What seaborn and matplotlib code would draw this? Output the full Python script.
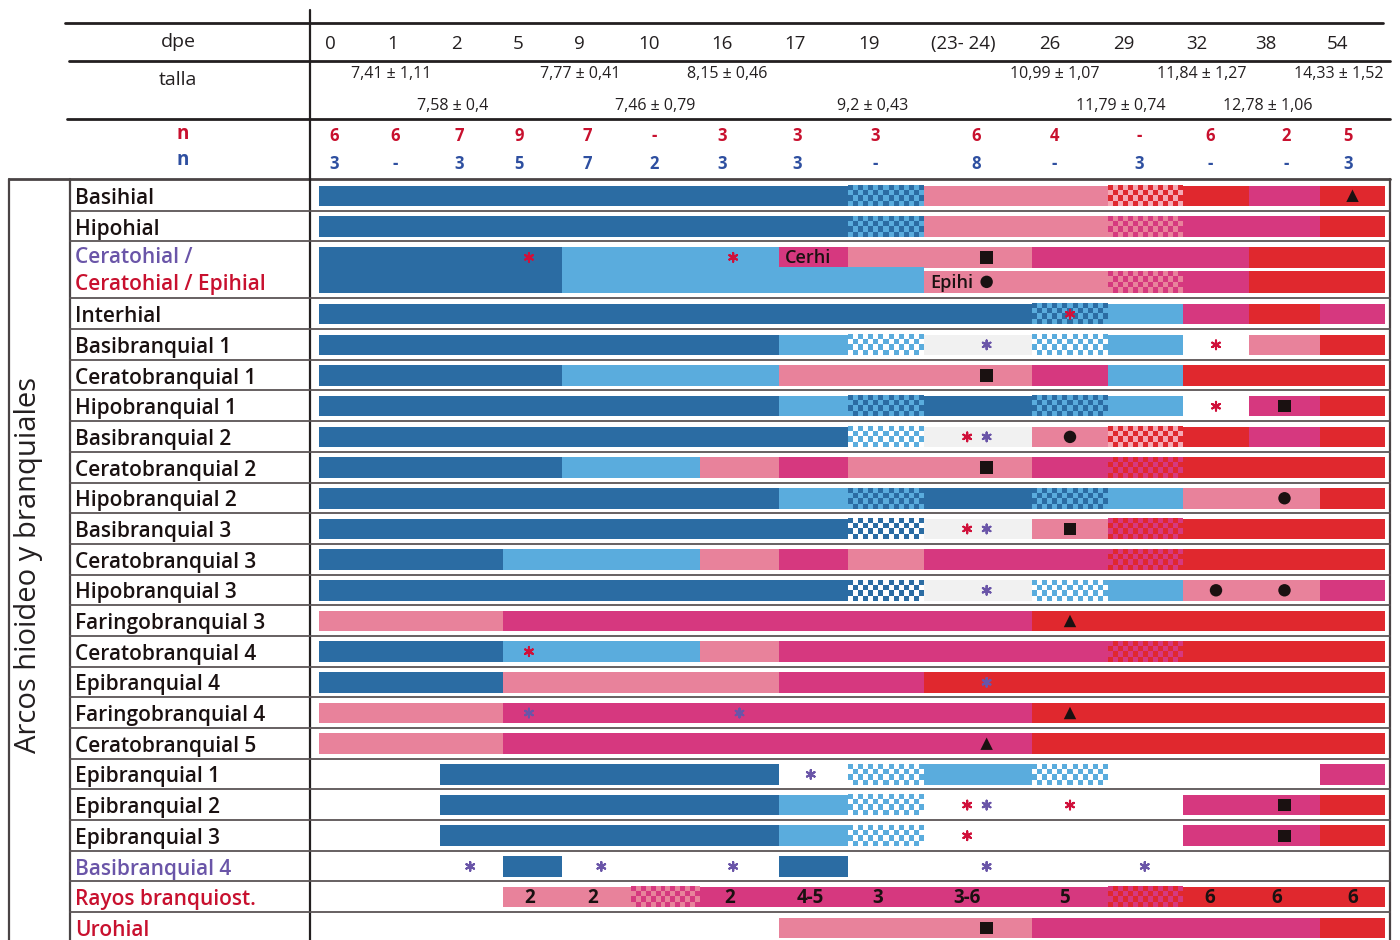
import numpy as np
import pandas as pd
import matplotlib
matplotlib.use("Agg")
import matplotlib.pyplot as plt
from matplotlib.colors import ListedColormap
import seaborn as sns

sns.set_theme(style="white")
plt.rcParams["font.family"] = ["Open Sans", "DejaVu Sans"]

# ---------------- data ----------------
dpe_labels = ["0", "1", "2", "5", "9", "10", "16", "17", "19", "(23- 24)",
              "26", "29", "32", "38", "54"]
talla_upper = ["7,41 ± 1,11", "7,77 ± 0,41", "8,15 ± 0,46",
               "10,99 ± 1,07", "11,84 ± 1,27", "14,33 ± 1,52"]
talla_lower = ["7,58 ± 0,4", "7,46 ± 0,79", "9,2 ± 0,43",
               "11,79 ± 0,74", "12,78 ± 1,06"]
n_red = ["6", "6", "7", "9", "7", "-", "3", "3", "3", "6", "4", "-", "6", "2", "5"]
n_blue = ["3", "-", "3", "5", "7", "2", "3", "3", "-", "8", "-", "3", "-", "-", "3"]

row_labels = [
    "Basihial", "Hipohial", "Ceratohial", "Interhial", "Basibranquial 1",
    "Ceratobranquial 1", "Hipobranquial 1", "Basibranquial 2",
    "Ceratobranquial 2", "Hipobranquial 2", "Basibranquial 3",
    "Ceratobranquial 3", "Hipobranquial 3", "Faringobranquial 3",
    "Ceratobranquial 4", "Epibranquial 4", "Faringobranquial 4",
    "Ceratobranquial 5", "Epibranquial 1", "Epibranquial 2", "Epibranquial 3",
    "Basibranquial 4", "Rayos branquiost.", "Urohial",
]

# segments along the stage scale: (from stage, to stage, state)
# states: D dark blue, L light blue, P pink, M magenta, R red, G grey,
# two-letter codes are alternating (checkered) states
segments = {
    "Basihial": [(0, 7, "D"), (7, 8, "DL"), (8, 10, "P"), (10, 11, "RP"),
                 (11, 12, "R"), (12, 13, "M"), (13, 14, "R")],
    "Hipohial": [(0, 7, "D"), (7, 8, "DL"), (8, 10, "P"), (10, 11, "PM"),
                 (11, 13, "M"), (13, 14, "R")],
    "Ceratohial": [(0, 3, "D"), (3, 6, "L"), (6, 7, "M"), (7, 9, "P"),
                   (9, 12, "M"), (12, 14, "R")],
    "Epihial": [(0, 3, "D"), (3, 8, "L"), (8, 10, "P"), (10, 11, "PM"),
                (11, 12, "M"), (12, 14, "R")],
    "Interhial": [(0, 9, "D"), (9, 10, "DL"), (10, 11, "L"), (11, 12, "M"),
                  (12, 13, "R"), (13, 14, "M")],
    "Basibranquial 1": [(0, 6, "D"), (6, 7, "L"), (7, 8, "LW"), (8, 9, "G"),
                        (9, 10, "LW"), (10, 11, "L"), (12, 13, "P"), (13, 14, "R")],
    "Ceratobranquial 1": [(0, 3, "D"), (3, 6, "L"), (6, 9, "P"), (9, 10, "M"),
                          (10, 11, "L"), (11, 14, "R")],
    "Hipobranquial 1": [(0, 6, "D"), (6, 7, "L"), (7, 8, "DL"), (8, 9, "D"),
                        (9, 10, "DL"), (10, 11, "L"), (12, 13, "M"), (13, 14, "R")],
    "Basibranquial 2": [(0, 7, "D"), (7, 8, "LW"), (8, 9, "G"), (9, 10, "P"),
                        (10, 11, "RP"), (11, 12, "R"), (12, 13, "M"), (13, 14, "R")],
    "Ceratobranquial 2": [(0, 3, "D"), (3, 5, "L"), (5, 6, "P"), (6, 7, "M"),
                          (7, 9, "P"), (9, 10, "M"), (10, 11, "MR"), (11, 14, "R")],
    "Hipobranquial 2": [(0, 6, "D"), (6, 7, "L"), (7, 8, "DL"), (8, 9, "D"),
                        (9, 10, "DL"), (10, 11, "L"), (11, 13, "P"), (13, 14, "R")],
    "Basibranquial 3": [(0, 7, "D"), (7, 8, "DW"), (8, 9, "G"), (9, 10, "P"),
                        (10, 11, "MR"), (11, 14, "R")],
    "Ceratobranquial 3": [(0, 2, "D"), (2, 5, "L"), (5, 6, "P"), (6, 7, "M"),
                          (7, 8, "P"), (8, 10, "M"), (10, 11, "MR"), (11, 14, "R")],
    "Hipobranquial 3": [(0, 7, "D"), (7, 8, "DW"), (8, 9, "G"), (9, 10, "LW"),
                        (10, 11, "L"), (11, 13, "P"), (13, 14, "M")],
    "Faringobranquial 3": [(0, 2, "P"), (2, 9, "M"), (9, 14, "R")],
    "Ceratobranquial 4": [(0, 2, "D"), (2, 5, "L"), (5, 6, "P"), (6, 10, "M"),
                          (10, 11, "MR"), (11, 14, "R")],
    "Epibranquial 4": [(0, 2, "D"), (2, 6, "P"), (6, 8, "M"), (8, 14, "R")],
    "Faringobranquial 4": [(0, 2, "P"), (2, 9, "M"), (9, 14, "R")],
    "Ceratobranquial 5": [(0, 2, "P"), (2, 9, "M"), (9, 14, "R")],
    "Epibranquial 1": [(1, 6, "D"), (7, 8, "LW"), (8, 9, "L"), (9, 10, "LW"),
                       (13, 14, "M")],
    "Epibranquial 2": [(1, 6, "D"), (6, 7, "L"), (7, 8, "LW"), (11, 13, "M"),
                       (13, 14, "R")],
    "Epibranquial 3": [(1, 6, "D"), (6, 7, "L"), (7, 8, "LW"), (11, 13, "M"),
                       (13, 14, "R")],
    "Basibranquial 4": [(2, 3, "D"), (6, 7, "D")],
    "Rayos branquiost.": [(2, 4, "P"), (4, 5, "PM"), (5, 10, "M"), (10, 11, "MR"),
                          (11, 14, "R")],
    "Urohial": [(6, 9, "P"), (9, 13, "M"), (13, 14, "R")],
}

# symbols on the bars: (row/lane, stage position, kind)
marks = [
    ("Basihial", 13.5, "triangulo"),
    ("Ceratohial", 2.44, "ast_rojo"), ("Ceratohial", 5.42, "ast_rojo"),
    ("Ceratohial", 8.58, "cuadrado"),
    ("Epihial", 8.58, "circulo"),
    ("Interhial", 9.5, "ast_rojo"),
    ("Basibranquial 1", 8.58, "ast_morado"), ("Basibranquial 1", 11.5, "ast_rojo"),
    ("Ceratobranquial 1", 8.58, "cuadrado"),
    ("Hipobranquial 1", 11.5, "ast_rojo"), ("Hipobranquial 1", 12.5, "cuadrado"),
    ("Basibranquial 2", 8.4, "ast_rojo"), ("Basibranquial 2", 8.58, "ast_morado"),
    ("Basibranquial 2", 9.5, "circulo"),
    ("Ceratobranquial 2", 8.58, "cuadrado"),
    ("Hipobranquial 2", 12.5, "circulo"),
    ("Basibranquial 3", 8.4, "ast_rojo"), ("Basibranquial 3", 8.58, "ast_morado"),
    ("Basibranquial 3", 9.5, "cuadrado"),
    ("Hipobranquial 3", 8.58, "ast_morado"),
    ("Hipobranquial 3", 11.5, "circulo"), ("Hipobranquial 3", 12.5, "circulo"),
    ("Faringobranquial 3", 9.5, "triangulo"),
    ("Ceratobranquial 4", 2.44, "ast_rojo"),
    ("Epibranquial 4", 8.58, "ast_morado"),
    ("Faringobranquial 4", 2.44, "ast_morado"), ("Faringobranquial 4", 5.5, "ast_morado"),
    ("Faringobranquial 4", 9.5, "triangulo"),
    ("Ceratobranquial 5", 8.58, "triangulo"),
    ("Epibranquial 1", 6.46, "ast_morado"),
    ("Epibranquial 2", 8.4, "ast_rojo"), ("Epibranquial 2", 8.58, "ast_morado"),
    ("Epibranquial 2", 9.5, "ast_rojo"), ("Epibranquial 2", 12.5, "cuadrado"),
    ("Epibranquial 3", 8.4, "ast_rojo"), ("Epibranquial 3", 12.5, "cuadrado"),
    ("Basibranquial 4", 1.48, "ast_morado"), ("Basibranquial 4", 3.57, "ast_morado"),
    ("Basibranquial 4", 5.42, "ast_morado"), ("Basibranquial 4", 8.58, "ast_morado"),
    ("Basibranquial 4", 10.49, "ast_morado"),
    ("Urohial", 8.58, "cuadrado"),
]

# number of branchiostegal rays written on their bar
rayos_pos = [2.46, 3.45, 5.38, 6.46, 7.39, 8.40, 9.43, 11.41, 12.39, 13.5]
rayos_txt = ["2", "2", "2", "4-5", "3", "3-6", "5", "6", "6", "6"]

# ---------------- style / layout ----------------
C = {
    "D": "#2b6ca3", "L": "#5aacdd", "P": "#e8829b", "M": "#d6387f",
    "R": "#e0282e", "G": "#f1f1f1", "W": "#ffffff", "p": "#f4aab5",
}
CHECKER = {"DL": ("D", "L"), "LW": ("L", "W"), "DW": ("D", "W"),
           "RP": ("R", "p"), "PM": ("M", "P"), "MR": ("M", "R")}
RED_TXT = "#c8102e"
BLUE_TXT = "#2e4fa0"
PURPLE_TXT = "#6a55a8"
INK = "#231f20"

EDGE_PX = [319, 440, 503, 562, 631, 700, 779, 848, 924, 1032, 1108, 1183,
           1249, 1320, 1385]


def sx(stage):
    return np.interp(stage, np.arange(len(EDGE_PX)), EDGE_PX)


TABLE_TOP = 180.0
PITCH = 30.68
row_units = {lab: (1.86 if lab == "Ceratohial" else 1.0) for lab in row_labels}
row_top = {}
y = TABLE_TOP
for lab in row_labels:
    row_top[lab] = y
    y += row_units[lab] * PITCH

lanes = {}
for lab in row_labels:
    t = row_top[lab]
    if lab == "Ceratohial":
        lanes["Ceratohial"] = (t + 5.5, t + 26.5)
        lanes["Epihial"] = (t + 29.5, t + 51.5)
    else:
        lanes[lab] = (t + 5.5, t + 26.0)

fig = plt.figure(figsize=(14, 9.4), dpi=100)
ax = fig.add_axes([0, 0, 1, 1])
ax.set_facecolor("white")

# bars
for lane, segs in segments.items():
    y0, y1 = lanes[lane]
    for a, b, st in segs:
        xa, xb = sx(a), sx(b)
        top = y0
        if lane == "Epihial" and st in ("D", "L"):
            top = lanes["Ceratohial"][1] - 0.5
        if st in CHECKER:
            c1, c2 = CHECKER[st]
            ncol = max(2, int(round((xb - xa) / 5.0)))
            nrow = 4
            pat = (np.add.outer(np.arange(nrow), np.arange(ncol)) % 2)
            ax.imshow(pat, cmap=ListedColormap([C[c1], C[c2]]), vmin=0, vmax=1,
                      extent=[xa, xb, y1, top], interpolation="nearest",
                      aspect="auto", zorder=2)
        else:
            ax.barh((top + y1) / 2, xb - xa, left=xa, height=y1 - top,
                    color=C[st], edgecolor="none", zorder=2)

# symbols
mk = pd.DataFrame(marks, columns=["lane", "stage", "kind"])
mk["x"] = sx(mk["stage"].to_numpy())
mk["y"] = [sum(lanes[l]) / 2 for l in mk["lane"]]
solid = mk[~mk["kind"].str.startswith("ast")]
stars = mk[mk["kind"].str.startswith("ast")]
sns.scatterplot(data=solid, x="x", y="y", style="kind",
                markers={"cuadrado": "s", "circulo": "o", "triangulo": "^"},
                color="#1a1111", s=80, edgecolor="none", legend=False,
                ax=ax, zorder=5)
sns.scatterplot(data=stars, x="x", y="y", hue="kind",
                palette={"ast_rojo": "#d0103a", "ast_morado": PURPLE_TXT},
                marker=(6, 2, 0), s=40, linewidth=1.5, legend=False,
                ax=ax, zorder=5)

# text inside bars
ax.text(sx(6.08), sum(lanes["Ceratohial"]) / 2 + 1, "Cerhi", ha="left",
        va="center", fontsize=13, fontweight="semibold", color="#1a1111", zorder=6)
ax.text(sx(8.06), sum(lanes["Epihial"]) / 2 + 1, "Epihi", ha="left",
        va="center", fontsize=13, fontweight="semibold", color="#1a1111", zorder=6)
yr = sum(lanes["Rayos branquiost."]) / 2 + 1
for p, t in zip(rayos_pos, rayos_txt):
    ax.text(sx(p), yr, t, ha="center", va="center", fontsize=13.5,
            fontweight="bold", color="#1a1111", zorder=6)

# row labels
label_colour = {"Basibranquial 4": PURPLE_TXT, "Rayos branquiost.": RED_TXT,
                "Urohial": RED_TXT}
for lab in row_labels:
    t = row_top[lab]
    if lab == "Ceratohial":
        ax.text(75, t + 16, "Ceratohial /", ha="left", va="center",
                fontsize=15, fontweight="semibold", color=PURPLE_TXT)
        ax.text(75, t + 43, "Ceratohial / Epihial", ha="left", va="center",
                fontsize=15, fontweight="semibold", color=RED_TXT)
    else:
        ax.text(75, t + PITCH / 2 + 3, lab, ha="left", va="center",
                fontsize=15, fontweight="semibold",
                color=label_colour.get(lab, "#1a1111"))

ax.text(29, 565, "Arcos hioideo y branquiales", rotation=90, ha="center",
        va="center", fontsize=21, color=INK)

# header
dpe_x = [330, 393, 456, 518, 579, 649, 722, 795, 869, 963, 1050, 1124, 1197, 1266, 1338]
n_x = [334, 395, 459, 519, 587, 654, 722, 797, 875, 976, 1054, 1139, 1210, 1286, 1348]
ax.text(178, 42, "dpe", ha="center", va="center", fontsize=14, color=INK)
ax.text(178, 80, "talla", ha="center", va="center", fontsize=14, color=INK)
for xx, t in zip(dpe_x, dpe_labels):
    ax.text(xx, 44, t, ha="center", va="center", fontsize=13.5, color=INK)
for xx, t in zip([391, 580, 727, 1055, 1202, 1339], talla_upper):
    ax.text(xx, 74, t, ha="center", va="center", fontsize=11.5, color=INK)
for xx, t in zip([453, 655, 873, 1121, 1268], talla_lower):
    ax.text(xx, 106, t, ha="center", va="center", fontsize=11.5, color=INK)
ax.text(183, 134, "n", ha="center", va="center", fontsize=13.5,
        fontweight="bold", color=RED_TXT)
ax.text(183, 160, "n", ha="center", va="center", fontsize=13.5,
        fontweight="bold", color=BLUE_TXT)
for xx, t in zip(n_x, n_red):
    ax.text(xx, 136, t, ha="center", va="center", fontsize=12,
            fontweight="bold", color=RED_TXT)
for xx, t in zip(n_x, n_blue):
    ax.text(xx, 164, t, ha="center", va="center", fontsize=12,
            fontweight="bold", color=BLUE_TXT)

# rules of the table
ax.plot([65, 1383], [23, 23], color=INK, lw=2.0, zorder=7)
ax.plot([69, 1390], [61, 61], color=INK, lw=2.0, zorder=7)
ax.plot([67, 1390], [119, 119], color=INK, lw=2.0, zorder=7)
ax.plot([9, 1390], [179, 179], color="#4a4445", lw=2.0, zorder=7)
ax.plot([310, 310], [10, 940], color=INK, lw=1.6, zorder=7)
for xx in (9, 70, 1390):
    ax.plot([xx, xx], [179, 940], color="#4a4445", lw=1.6, zorder=7)
for lab in row_labels[1:]:
    ax.plot([70, 1390], [row_top[lab], row_top[lab]], color="#5a5455",
            lw=1.3, zorder=7)

ax.set_xlim(0, 1400)
ax.set_ylim(940, 0)
ax.axis("off")
fig.savefig("out.png", dpi=100, facecolor="white")
